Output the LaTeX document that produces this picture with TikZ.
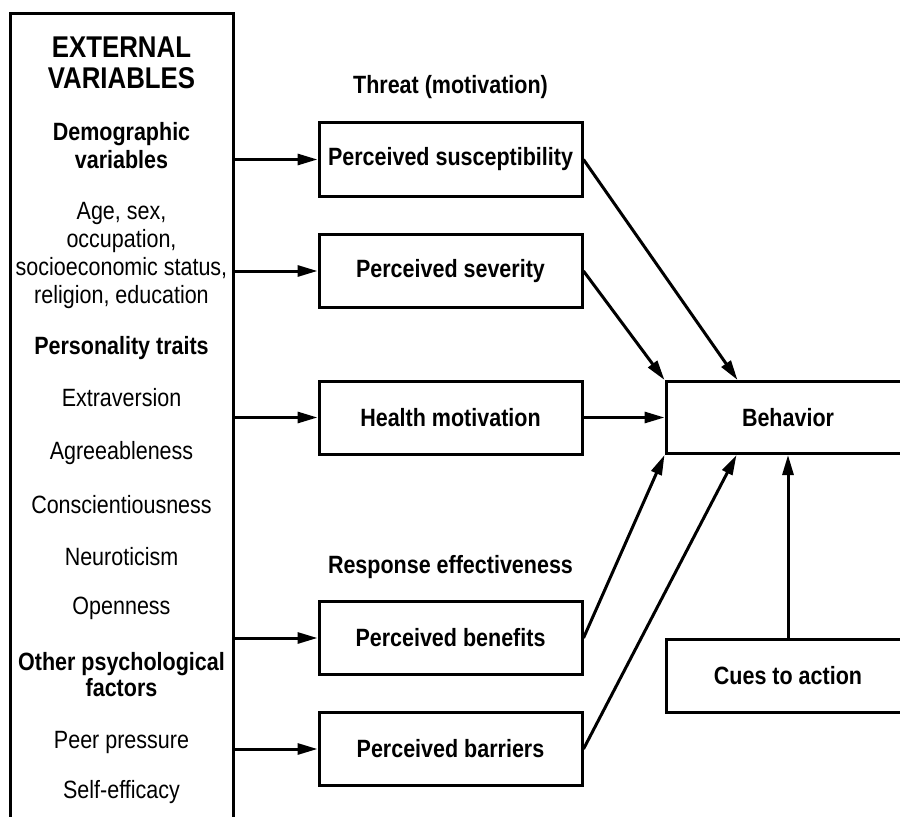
\documentclass[tikz,border=0pt]{standalone}
\usepackage{fontspec}
\setmainfont{Liberation Sans}[FakeStretch=0.86]
\usetikzlibrary{arrows.meta,positioning}

\tikzset{
	txt/.style={align=center,font=\fontsize{12.5}{14}\selectfont},
	head/.style={align=center,font=\fontsize{12.5}{14}\selectfont\bfseries},
	factor/.style={draw,head,minimum width=131.5pt,minimum height=36.5pt},
	outcome/.style={draw,head,minimum width=122pt,minimum height=36pt}
}

\begin{document}
\begin{tikzpicture}[x=0.5pt,y=0.5pt,line width=1.5pt,>={Triangle[length=10pt,width=5.5pt]}]
		\clip (0,0) rectangle (900,816);
		\node[draw,minimum width=111.5pt,minimum height=408pt](ext) at (121.5,394){};
		\node[head,font=\fontsize{15}{15.5}\selectfont\bfseries](title) at (121.5,753.5){EXTERNAL\\VARIABLES};
		\node[head,below of=title,node distance=41.75pt](demo){Demographic\\variables};
		\node[txt,below of=demo,node distance=54.75pt](age){Age, sex,\\occupation,\\socioeconomic status,\\religion, education};
		\node[head,below of=age,node distance=46.25pt](pers){Personality traits};
		\node[txt,below of=pers,node distance=25pt](extra){Extraversion};
		\node[txt,below of=extra,node distance=27.5pt](agree){Agreeableness};
		\node[txt,below of=agree,node distance=26pt](consc){Conscientiousness};
		\node[txt,below of=consc,node distance=26pt](neuro){Neuroticism};
		\node[txt,below of=neuro,node distance=25.5pt](open){Openness};
		\node[head,font=\fontsize{12.5}{13}\selectfont\bfseries,below of=open,node distance=33.5pt](other){Other psychological\\factors};
		\node[txt,below of=other,node distance=33.5pt](peer){Peer pressure};
		\node[txt,below of=peer,node distance=25pt](self){Self-efficacy};
		\node[factor](susc) at (450.5,656.5){Perceived susceptibility};
		\node[factor](sev) at (450.5,545){Perceived severity};
		\node[factor](health) at (450.5,398.5){Health motivation};
		\node[factor](ben) at (450.5,178){Perceived benefits};
		\node[factor](bar) at (450.5,67){Perceived barriers};
		\node[head,above of=susc,node distance=36pt](threat){Threat (motivation)};
		\node[head,above of=ben,node distance=35.5pt](resp){Response effectiveness};
		\node[outcome](behav) at (788,398.5){Behavior};
		\node[outcome,minimum height=36.5pt](cues) at (788,140.5){Cues to action};
		\path[->]
		(ext.east |- susc) edge (susc)
		(ext.east |- sev) edge (sev)
		(ext.east |- health) edge (health)
		(ext.east |- ben) edge (ben)
		(ext.east |- bar) edge (bar)
		(susc.east) edge ([xshift=36.5pt]behav.north west)
		(sev.east) edge (behav.north west)
		(health) edge (behav)
		(ben.east) edge (behav.south west)
		(bar.east) edge ([xshift=36pt]behav.south west)
		(cues) edge (behav);
\end{tikzpicture}
\end{document}
